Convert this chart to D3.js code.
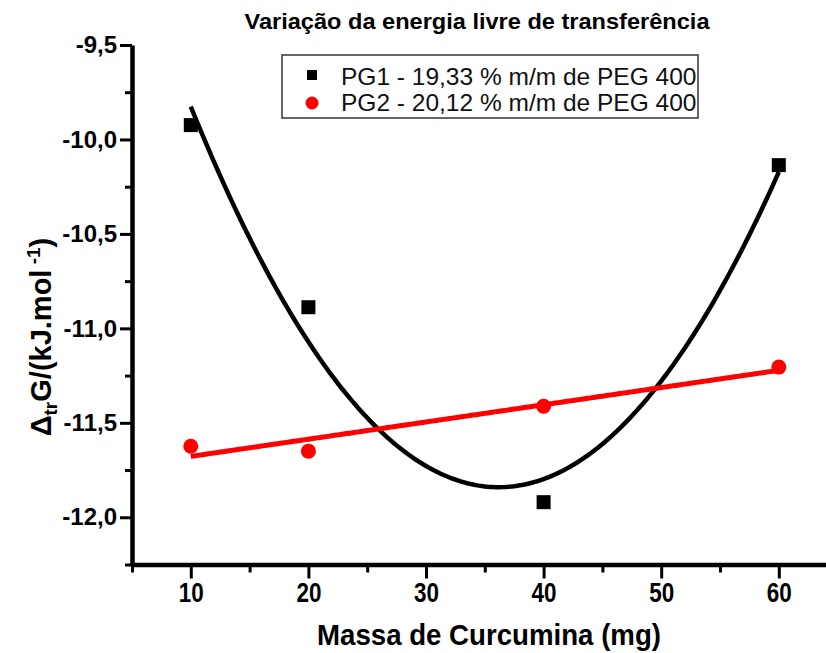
<!DOCTYPE html>
<html>
<head>
<meta charset="utf-8">
<script src="https://cdn.jsdelivr.net/npm/d3@7"></script>
<style>
  body { margin: 0; background: #fff; }
  svg { display: block; font-family: "Liberation Sans", Arial, sans-serif; }
</style>
</head>
<body>
<svg id="chart" width="826" height="653"></svg>
<script>
// Mass of curcumin (mg) and transfer free energy (kJ/mol) for both systems
const massa = [10, 20, 40, 60];
const pg1 = [-9.924, -10.888, -11.92, -10.136];
const pg2 = [-11.624, -11.650, -11.412, -11.205];

const xMajorTicks = [10, 20, 30, 40, 50, 60];
const xMinorTicks = [5, 15, 25, 35, 45, 55, 65];
const yMajorTicks = [-9.5, -10.0, -10.5, -11.0, -11.5, -12.0];
const yMinorTicks = [-9.75, -10.25, -10.75, -11.25, -11.75, -12.25];

const seriesNames = ["PG1 - 19,33 % m/m de PEG 400", "PG2 - 20,12 % m/m de PEG 400"];
const chartTitle = "Variação da energia livre de transferência";
const xTitle = "Massa de Curcumina (mg)";

const svg = d3.select("#chart");

const x = d3.scaleLinear().domain([5, 65]).range([132, 837.6]);
const y = d3.scaleLinear().domain([-12.25, -9.5]).range([564.5, 45]);

// Least-squares polynomial fit (normal equations + Gaussian elimination)
function polyfit(xs, ys, deg) {
  const n = deg + 1;
  const A = Array.from({length: n}, () => new Array(n + 1).fill(0));
  for (let r = 0; r < n; r++) {
    for (let c = 0; c < n; c++) A[r][c] = d3.sum(xs, v => Math.pow(v, r + c));
    A[r][n] = d3.sum(xs, (v, i) => Math.pow(v, r) * ys[i]);
  }
  for (let p = 0; p < n; p++) {
    let best = p;
    for (let r = p + 1; r < n; r++) if (Math.abs(A[r][p]) > Math.abs(A[best][p])) best = r;
    [A[p], A[best]] = [A[best], A[p]];
    for (let r = 0; r < n; r++) {
      if (r === p) continue;
      const f = A[r][p] / A[p][p];
      for (let c = p; c <= n; c++) A[r][c] -= f * A[p][c];
    }
  }
  const coef = A.map((row, i) => row[n] / row[i]);
  return v => coef.reduce((s, c, i) => s + c * Math.pow(v, i), 0);
}

const fit1 = polyfit(massa, pg1, 2);
const fit2 = polyfit(massa, pg2, 1);
const xs = d3.range(10, 60.001, 0.25);

const fmtY = d => d.toFixed(1).replace(".", ",");

// ---- axes ----
function styleAxis(g) {
  g.attr("font-family", null).attr("font-size", null);
  g.select(".domain").attr("stroke", "#000").attr("stroke-width", 4.5);
  g.selectAll(".tick line").attr("stroke", "#000").attr("stroke-width", 3);
  g.selectAll(".tick text").attr("fill", "#000").attr("font-weight", "bold");
}

const xAxisMinor = svg.append("g").attr("transform", `translate(0,${y.range()[0]})`)
  .call(d3.axisBottom(x).tickValues(xMinorTicks).tickSize(8).tickSizeOuter(0).tickFormat(""));
styleAxis(xAxisMinor);
xAxisMinor.select(".domain").remove();

const xAxis = svg.append("g").attr("transform", `translate(0,${y.range()[0]})`)
  .call(d3.axisBottom(x).tickValues(xMajorTicks).tickSize(14).tickSizeOuter(0).tickPadding(4)
    .tickFormat(d3.format("d")));
styleAxis(xAxis);
xAxis.selectAll(".tick text").attr("font-size", 27)
  .attr("textLength", 25).attr("lengthAdjust", "spacingAndGlyphs");

const yAxisMinor = svg.append("g").attr("transform", `translate(${x.range()[0]},0)`)
  .call(d3.axisLeft(y).tickValues(yMinorTicks).tickSize(7).tickSizeOuter(0).tickFormat(""));
styleAxis(yAxisMinor);
yAxisMinor.select(".domain").remove();

const yAxis = svg.append("g").attr("transform", `translate(${x.range()[0]},0)`)
  .call(d3.axisLeft(y).tickValues(yMajorTicks).tickSize(12).tickSizeOuter(0).tickPadding(3)
    .tickFormat(fmtY));
styleAxis(yAxis);
yAxis.selectAll(".tick text").attr("font-size", 24);

// ---- fitted curves ----
const line = d3.line().x(d => x(d[0])).y(d => y(d[1]));

svg.append("path")
  .datum(xs.map(v => [v, fit1(v)]))
  .attr("d", line).attr("fill", "none")
  .attr("stroke", "#000").attr("stroke-width", 4.5);

svg.append("path")
  .datum(xs.map(v => [v, fit2(v)]))
  .attr("d", line).attr("fill", "none")
  .attr("stroke", "#ff0000").attr("stroke-width", 5);

// ---- data markers ----
const sq = 14;
svg.append("g").selectAll("rect")
  .data(massa.map((m, i) => [m, pg1[i]]))
  .join("rect")
  .attr("x", d => x(d[0]) - sq / 2).attr("y", d => y(d[1]) - sq / 2)
  .attr("width", sq).attr("height", sq).attr("fill", "#000");

svg.append("g").selectAll("circle")
  .data(massa.map((m, i) => [m, pg2[i]]))
  .join("circle")
  .attr("cx", d => x(d[0])).attr("cy", d => y(d[1]))
  .attr("r", 7.5).attr("fill", "#ff0000");

// ---- legend ----
const legend = svg.append("g");
legend.append("rect")
  .attr("x", 282).attr("y", 55).attr("width", 416).attr("height", 63)
  .attr("fill", "#fff").attr("stroke", "#333").attr("stroke-width", 1.5);
legend.append("rect").attr("x", 307).attr("y", 70).attr("width", 10).attr("height", 10).attr("fill", "#000");
legend.append("circle").attr("cx", 312).attr("cy", 103).attr("r", 6.5).attr("fill", "#ff0000");
legend.selectAll("text.item")
  .data(seriesNames)
  .join("text")
  .attr("class", "item")
  .attr("x", 341).attr("y", (d, i) => 85 + i * 26)
  .attr("font-size", 24.5).attr("fill", "#111")
  .text(d => d);

// ---- titles ----
svg.append("text")
  .attr("x", 477).attr("y", 29).attr("text-anchor", "middle")
  .attr("font-size", 22).attr("font-weight", "bold")
  .attr("textLength", 465).attr("lengthAdjust", "spacingAndGlyphs")
  .text(chartTitle);

svg.append("text")
  .attr("x", 489).attr("y", 645).attr("text-anchor", "middle")
  .attr("font-size", 30).attr("font-weight", "bold")
  .attr("textLength", 344).attr("lengthAdjust", "spacingAndGlyphs")
  .text(xTitle);

const yTitle = svg.append("text")
  .attr("transform", "translate(51,337) rotate(-90)")
  .attr("text-anchor", "middle")
  .attr("font-size", 29).attr("font-weight", "bold");
yTitle.append("tspan").text("Δ");
yTitle.append("tspan").attr("font-size", 19).attr("dy", 6).text("tr");
yTitle.append("tspan").attr("dy", -6).text("G/(kJ.mol");
yTitle.append("tspan").attr("font-size", 19).attr("dy", -11).text(" -1");
yTitle.append("tspan").attr("dy", 11).text(")");
</script>
</body>
</html>
